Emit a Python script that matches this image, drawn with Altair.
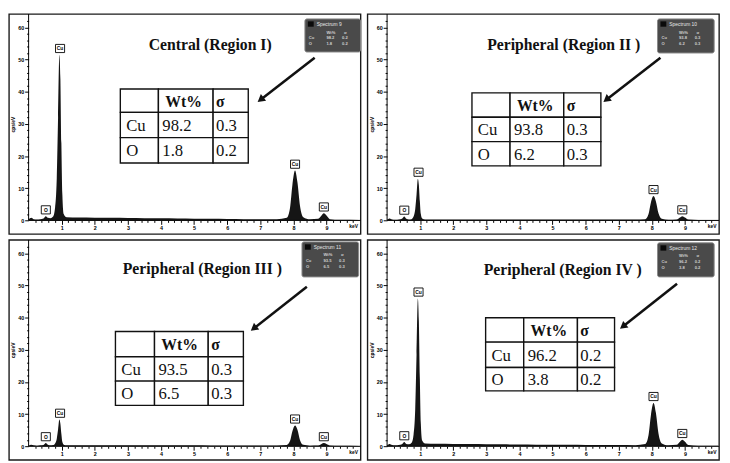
import math
import altair as alt
import pandas as pd

# ---------------- data ----------------
kev = [0.00, 0.08, 0.15, 0.25, 0.35, 0.45, 0.52, 0.58, 0.66, 0.74, 0.80, 0.85, 0.89, 0.93,
       0.96, 0.99, 1.02, 1.06, 1.15, 1.5, 2.0, 2.5, 3.0, 3.5, 4.0, 4.5, 5.0, 5.5, 6.0, 6.5,
       7.0, 7.5, 7.8, 7.9, 7.97, 8.05, 8.12, 8.2, 8.3, 8.5, 8.75, 8.85, 8.92, 9.0, 9.1, 9.4, 10.0]

cps_region1 = [0.3, 0.8, 0.4, 0.3, 0.4, 0.6, 1.3, 0.8, 0.7,
               1.2, 4, 13, 32, 51.5, 44, 24, 8, 2, 1.0,
               0.9, 0.85, 0.8, 0.75, 0.7, 0.65, 0.6, 0.55, 0.5, 0.45, 0.4, 0.4, 0.4,
               0.8, 4, 11, 15.5, 12, 4.5, 1.0, 0.35,
               0.5, 1.5, 2.2, 1.5, 0.4, 0.2, 0.15]
cps_region2 = [0.2, 0.6, 0.3, 0.2, 0.3, 0.5, 1.2, 0.5, 0.3,
               0.4, 1.2, 3.5, 8, 13, 11, 6, 2, 0.6, 0.3,
               0.3, 0.3, 0.3, 0.3, 0.3, 0.3, 0.3, 0.3, 0.25, 0.25, 0.25, 0.25, 0.25,
               0.4, 2, 5.5, 7.6, 6, 2.2, 0.5, 0.2,
               0.3, 0.9, 1.3, 0.9, 0.3, 0.15, 0.1]
cps_region3 = [0.2, 0.5, 0.3, 0.2, 0.3, 0.4, 1.0, 0.5, 0.3,
               0.4, 0.9, 2.3, 5.2, 8.3, 7, 3.8, 1.3, 0.5, 0.3,
               0.3, 0.3, 0.3, 0.3, 0.3, 0.3, 0.3, 0.3, 0.25, 0.25, 0.25, 0.25, 0.25,
               0.4, 1.7, 4.7, 6.5, 5.2, 1.9, 0.45, 0.2,
               0.25, 0.7, 1.0, 0.7, 0.25, 0.15, 0.1]
cps_region4 = [0.3, 0.7, 0.4, 0.3, 0.4, 0.6, 1.3, 0.7, 0.6,
               1.1, 3.6, 11.5, 28.5, 46, 39, 21, 7, 1.8, 0.9,
               0.8, 0.75, 0.7, 0.65, 0.6, 0.55, 0.5, 0.5, 0.45, 0.4, 0.4, 0.4, 0.35,
               0.7, 3.5, 9.6, 13.5, 10.5, 4, 0.9, 0.3,
               0.45, 1.4, 2.0, 1.4, 0.4, 0.2, 0.15]
cps_all = [cps_region1, cps_region2, cps_region3, cps_region4]

titles = ["Central (Region I)", "Peripheral (Region II )",
          "Peripheral (Region III )", "Peripheral (Region IV )"]
spectrum_names = ["Spectrum 9", "Spectrum 10", "Spectrum 11", "Spectrum 12"]
elements = ["Cu", "O"]
wt = [[98.2, 1.8], [93.8, 6.2], [93.5, 6.5], [96.2, 3.8]]
sigma = [[0.3, 0.2], [0.3, 0.3], [0.3, 0.3], [0.2, 0.2]]
box_sigma = [[0.2, 0.2], [0.3, 0.3], [0.3, 0.3], [0.2, 0.2]]

peak_kev = [0.52, 0.95, 8.05, 8.92]
peak_txt = ["O", "Cu", "Cu", "Cu"]
peak_cnt = [[1.3, 51.5, 15.5, 2.2], [1.2, 13, 7.6, 1.3], [1.0, 8.3, 6.5, 1.0], [1.3, 46, 13.5, 2.0]]

y_major = [0, 10, 20, 30, 40, 50, 60]
x_major = [1, 2, 3, 4, 5, 6, 7, 8, 9]

# ---------------- layout (reference-panel pixel units) ----------------
W, H = 358, 224
SX, SY = W / 360.0, H / 226.0
XMIN, XMAX = -0.593, 10.03
YMIN, YMAX = -4.24, 64.2
x_off = H * (0 - YMIN) / (YMAX - YMIN)
y_off = W * (0 - XMIN) / (XMAX - XMIN)

x_minor = [round(0.2 * k, 1) for k in range(1, 50) if k % 5 != 0]
y_minor = [v for v in range(2, 63, 2) if v % 10 != 0]

title_pos = [(206, 32), (201, 32), (198, 30), (200, 31)]
table_cols = [[114, 153, 209, 245], [107, 146, 201, 239], [109, 149, 204, 240], [121, 160, 215, 253]]
table_rows = [[77, 101, 127, 153], [81, 106, 131, 156], [94, 120, 145, 170], [80, 105, 131, 155]]
arrows = [((313, 45), (255, 90)), ((300, 45), (242, 90)), ((305, 48), (248, 93)), ((317, 45), (259, 91))]
gboxes = [(303, 5, 360, 39), (297, 5, 355, 40), (300, 2, 358, 38), (297, 3, 355, 38)]

SERIF = "Liberation Serif"
SANS = "Liberation Sans"


def fx(v):
    return v * SX


def fy(v):
    return v * SY


def PX(f):
    return alt.X(f + ":Q", scale=None, axis=None)


def PY(f):
    return alt.Y(f + ":Q", scale=None, axis=None)


def panel(i):
    spec = pd.DataFrame({"kev": kev, "cps": cps_all[i]})
    xs = alt.Scale(domain=[XMIN, XMAX], nice=False, zero=False)
    ys = alt.Scale(domain=[YMIN, YMAX], nice=False, zero=False)

    area = alt.Chart(spec).mark_area(color="#151515", interpolate="monotone").encode(
        x=alt.X("kev:Q", scale=xs, axis=alt.Axis(
            values=x_major, orient="bottom", offset=-x_off, domain=False, grid=False,
            tickSize=4, tickColor="black", labelFontSize=5.5, labelFont=SANS,
            labelFontWeight="bold", labelColor="black", labelPadding=1, title=None)),
        y=alt.Y("cps:Q", scale=ys, axis=alt.Axis(
            values=y_major, orient="left", offset=-y_off, domain=False, grid=False,
            tickSize=4, tickColor="black", labelFontSize=5.5, labelFont=SANS,
            labelFontWeight="bold", labelColor="black", labelPadding=1,
            title="cps/eV", titleFontSize=5, titleFont=SANS, titleFontWeight="bold",
            titleColor="black", titlePadding=2)),
    )
    minor = alt.Chart(spec).mark_point(opacity=0).encode(
        x=alt.X("kev:Q", scale=xs, axis=alt.Axis(
            values=x_minor, orient="bottom", offset=-x_off, domain=False, grid=False,
            tickSize=2, tickColor="black", labels=False, title=None)),
        y=alt.Y("cps:Q", scale=ys, axis=alt.Axis(
            values=y_minor, orient="left", offset=-y_off, domain=False, grid=False,
            tickSize=2, tickColor="black", labels=False, title=None)),
    )
    one = pd.DataFrame({"a": [0]})
    xaxis_line = alt.Chart(one).mark_rule(color="black", strokeWidth=1).encode(
        x=alt.XDatum(0, axis=None), x2=alt.X2Datum(XMAX), y=alt.YDatum(0, axis=None))
    yaxis_line = alt.Chart(one).mark_rule(color="black", strokeWidth=1).encode(
        x=alt.XDatum(0, axis=None), y=alt.YDatum(0, axis=None), y2=alt.Y2Datum(YMAX))
    kev_lab = alt.Chart(one).mark_text(text="keV", fontSize=5, font=SANS, fontWeight="bold",
                                       dy=6, color="black").encode(
        x=alt.XDatum(9.82, axis=None), y=alt.YDatum(0, axis=None))

    pk = pd.DataFrame({"kev": peak_kev, "cnt": peak_cnt[i], "t": peak_txt})
    pk_box = alt.Chart(pk).mark_point(
        shape="M-1,-0.9L1,-0.9L1,0.9L-1,0.9Z", size=85, filled=True, fill="white",
        stroke="black", strokeWidth=0.9, opacity=1, yOffset=-6.5).encode(
        x=alt.X("kev:Q", axis=None), y=alt.Y("cnt:Q", axis=None))
    pk_txt = alt.Chart(pk).mark_text(fontSize=5, font=SANS, fontWeight="bold",
                                     color="black", yOffset=-6.5).encode(
        x=alt.X("kev:Q", axis=None), y=alt.Y("cnt:Q", axis=None), text="t:N")

    # region title
    tdf = pd.DataFrame({"t": [titles[i]], "x": [fx(title_pos[i][0])], "y": [fy(title_pos[i][1])]})
    title = alt.Chart(tdf).mark_text(font=SERIF, fontSize=16, fontWeight="bold",
                                     color="#111", align="center", baseline="middle").encode(
        x=PX("x"), y=PY("y"), text="t:N")

    # composition table
    cols, rows = table_cols[i], table_rows[i]
    cells = []
    for r in range(3):
        for c in range(3):
            cells.append({"x": fx(cols[c]), "x2": fx(cols[c + 1]),
                          "y": fy(rows[r]), "y2": fy(rows[r + 1])})
    cells = pd.DataFrame(cells)
    table = alt.Chart(cells).mark_rect(fill="white", stroke="#111", strokeWidth=1.4).encode(
        x=PX("x"), x2="x2:Q", y=PY("y"), y2="y2:Q")
    pads = [6, 4, 3]
    head = pd.DataFrame({"t": ["Wt%", "σ"],
                         "x": [fx(cols[1] + 7), fx(cols[2] + pads[2])],
                         "y": [fy((rows[0] + rows[1]) / 2)] * 2})
    body_rows = []
    for r in range(2):
        vals = [elements[r], f"{wt[i][r]:.1f}", f"{sigma[i][r]:.1f}"]
        for c in range(3):
            body_rows.append({"t": vals[c], "x": fx(cols[c] + pads[c]),
                              "y": fy((rows[r + 1] + rows[r + 2]) / 2)})
    body = pd.DataFrame(body_rows)
    head_txt = alt.Chart(head).mark_text(font=SERIF, fontSize=16, fontWeight="bold", color="#111",
                                         align="left", baseline="middle", dy=1).encode(
        x=PX("x"), y=PY("y"), text="t:N")
    body_txt = alt.Chart(body).mark_text(font=SERIF, fontSize=17, color="#111",
                                         align="left", baseline="middle", dy=1).encode(
        x=PX("x"), y=PY("y"), text="t:N")

    # grey spectrum box
    bx0, by0, bx1, by1 = gboxes[i]
    gb = pd.DataFrame({"x": [fx(bx0)], "x2": [fx(bx1)], "y": [fy(by0)], "y2": [fy(by1)]})
    gbox = alt.Chart(gb).mark_rect(fill="#4a4a4a", stroke="#8a8a8a", strokeWidth=1,
                                   cornerRadius=2).encode(
        x=PX("x"), x2="x2:Q", y=PY("y"), y2="y2:Q")
    ic = pd.DataFrame({"x": [fx(bx0 + 3)], "x2": [fx(bx0 + 9)], "y": [fy(by0 + 2.5)], "y2": [fy(by0 + 8)]})
    icon = alt.Chart(ic).mark_rect(fill="#0a0a0a").encode(
        x=PX("x"), x2="x2:Q", y=PY("y"), y2="y2:Q")
    gt = pd.DataFrame({"t": [spectrum_names[i]], "x": [fx(bx0 + 12)], "y": [fy(by0 + 5.5)]})
    gtitle = alt.Chart(gt).mark_text(font=SANS, fontSize=5, color="#e6e6e6", align="left",
                                     baseline="middle").encode(x=PX("x"), y=PY("y"), text="t:N")
    grows = [{"t": "Wt%", "x": fx(bx0 + 22), "y": fy(by0 + 14)},
             {"t": "σ", "x": fx(bx0 + 40), "y": fy(by0 + 14)}]
    for r in range(2):
        yy = fy(by0 + 20 + 6 * r)
        grows += [{"t": elements[r], "x": fx(bx0 + 4), "y": yy},
                  {"t": f"{wt[i][r]:.1f}", "x": fx(bx0 + 22), "y": yy},
                  {"t": f"{box_sigma[i][r]:.1f}", "x": fx(bx0 + 38), "y": yy}]
    gr = pd.DataFrame(grows)
    gtext = alt.Chart(gr).mark_text(font=SANS, fontSize=4.2, color="#cfcfcf", align="left",
                                    baseline="middle", fontWeight="bold").encode(
        x=PX("x"), y=PY("y"), text="t:N")

    # arrow
    (sx0, sy0), (tx, ty) = arrows[i]
    sx0, sy0, tx, ty = fx(sx0), fy(sy0), fx(tx), fy(ty)
    L = math.hypot(tx - sx0, ty - sy0)
    ux, uy = (tx - sx0) / L, (ty - sy0) / L
    cx, cy = tx - ux * 4.5, ty - uy * 4.5
    ang = (math.degrees(math.atan2(ux, -uy)) + 360) % 360
    ad = pd.DataFrame({"x": [sx0], "y": [sy0], "x2": [cx], "y2": [cy]})
    aline = alt.Chart(ad).mark_rule(color="#111", strokeWidth=2.6).encode(
        x=PX("x"), x2="x2:Q", y=PY("y"), y2="y2:Q")
    hd = pd.DataFrame({"x": [cx], "y": [cy]})
    ahead = alt.Chart(hd).mark_point(shape="triangle", size=75, filled=True, color="#111",
                                     opacity=1, angle=ang).encode(x=PX("x"), y=PY("y"))

    return alt.layer(area, minor, xaxis_line, yaxis_line, kev_lab, pk_box, pk_txt, title,
                     table, head_txt, body_txt, gbox, icon, gtitle, gtext, aline, ahead
                     ).resolve_axis(x="independent", y="independent").properties(width=W, height=H)


p = [panel(k) for k in range(4)]
chart = alt.vconcat(
    alt.hconcat(p[0], p[1], spacing=3),
    alt.hconcat(p[2], p[3], spacing=3),
    spacing=3,
).properties(padding=0, background="white").configure_view(stroke="#1a1a1a", strokeWidth=1.4)

chart.save("out.html", embed_options={"renderer": "svg", "actions": False})
